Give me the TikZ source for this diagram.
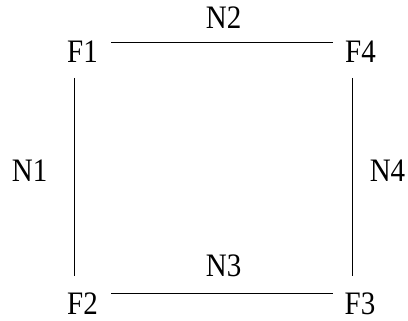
\documentclass[tikz,border=0pt]{standalone}
\usepackage{fontspec}
\usepackage{graphicx}
\setmainfont{Liberation Serif}
\newcommand{\tall}[1]{\scalebox{1}[1.13]{#1}}
\begin{document}
\begin{tikzpicture}[x=1pt,y=-1pt,
  lbl/.style={anchor=base,inner sep=0pt,font=\fontsize{29}{34}\selectfont},
  edge/.style={line width=1.5pt}]
\useasboundingbox (0,0) rectangle (408,321);
\node[lbl] (F1) at (82.5,63) {\tall{F1}};
\node[lbl] (F4) at (360.5,63) {\tall{F4}};
\node[lbl] (F2) at (82.5,315) {\tall{F2}};
\node[lbl] (F3) at (360,315) {\tall{F3}};
\node[lbl] (N2) at (223.7,28.3) {\tall{N2}};
\node[lbl] (N3) at (223.7,276.7) {\tall{N3}};
\node[lbl] (N1) at (29.7,181.7) {\tall{N1}};
\node[lbl] (N4) at (387.5,181.7) {\tall{N4}};
\coordinate (t1) at (111,42.3);
\coordinate (t4) at (333.3,42.3);
\coordinate (b2) at (111,293.3);
\coordinate (b3) at (333.3,293.3);
\coordinate (l1) at (74.3,78);
\coordinate (l2) at (74.3,276);
\coordinate (r4) at (352.3,78);
\coordinate (r3) at (352.3,276);
\draw[edge] (t1) -- (t4);
\draw[edge] (b2) -- (b3);
\draw[edge] (l1) -- (l2);
\draw[edge] (r4) -- (r3);
\end{tikzpicture}
\end{document}
